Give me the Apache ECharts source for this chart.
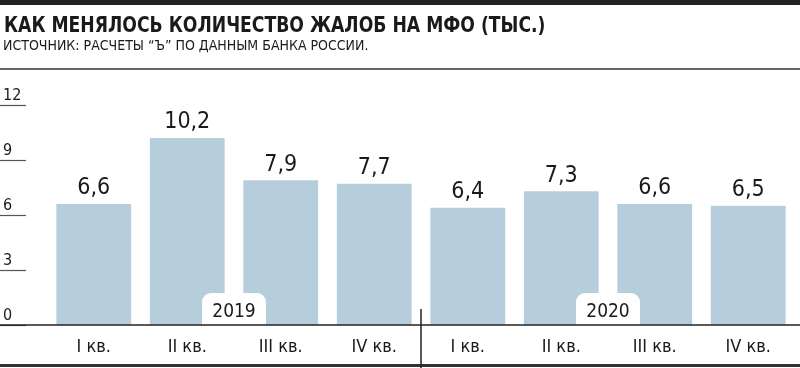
<!DOCTYPE html>
<html><head><meta charset="utf-8">
<script src="https://cdn.jsdelivr.net/npm/echarts@6/dist/echarts.min.js"></script>
<style>html,body{margin:0;padding:0;background:#fff}#c{width:800px;height:368px}</style>
</head><body><div id="c"></div>
<script>
const titleText = 'КАК МЕНЯЛОСЬ КОЛИЧЕСТВО ЖАЛОБ НА МФО (ТЫС.)';
const subtitleText = 'ИСТОЧНИК: РАСЧЕТЫ “Ъ” ПО ДАННЫМ БАНКА РОССИИ.';
const categories = ['I кв.','II кв.','III кв.','IV кв.','I кв.','II кв.','III кв.','IV кв.'];
const values = [6.6, 10.2, 7.9, 7.7, 6.4, 7.3, 6.6, 6.5];
const years = ['2019', '2020'];
const yTicks = [0, 3, 6, 9, 12];

const FONT = '"Liberation Sans Narrow","DejaVu Sans Condensed","Roboto",sans-serif';
const chart = echarts.init(document.getElementById('c'), null, {renderer:'canvas'});
const option = {
  animation: false,
  textStyle: {fontFamily: FONT},
  grid: {left: 47, right: 5, top: 105, bottom: 43},
  xAxis: {
    type: 'category', data: categories,
    axisTick: {show:false},
    axisLine: {show:false},
    axisLabel: {fontFamily: FONT, fontSize: 18, color:'#1a1a1a', margin: 13}
  },
  yAxis: {
    type: 'value', min: yTicks[0], max: yTicks[yTicks.length-1], interval: 3,
    position: 'left', offset: 21,
    axisLine: {show:false},
    axisTick: {show:true, length: 26, lineStyle:{color:'#555', width:1.2}},
    splitLine: {show:false},
    axisLabel: {fontFamily: FONT, fontSize: 16, color:'#1a1a1a', align:'left', margin: 23, verticalAlign:'bottom', padding:[0,0,1,0]}
  },
  series: [{
    type: 'bar', data: values, barCategoryGap: '20%',
    itemStyle: {color: '#b6cedb'},
    label: {show: true, position: 'top', distance: 4, fontFamily: FONT, fontSize: 23, color:'#1a1a1a',
      formatter: p => String(p.value).replace('.', ',')}
  }]
};
chart.setOption(option);

const base = chart.convertToPixel({yAxisIndex:0}, 0);
const p2 = chart.convertToPixel({xAxisIndex:0}, 1);
const p3 = chart.convertToPixel({xAxisIndex:0}, 2);
const p4 = chart.convertToPixel({xAxisIndex:0}, 3);
const p5 = chart.convertToPixel({xAxisIndex:0}, 4);
const p6 = chart.convertToPixel({xAxisIndex:0}, 5);
const p7 = chart.convertToPixel({xAxisIndex:0}, 6);
const yr1x = (p2 + p3) / 2, yr2x = (p6 + p7) / 2, divX = (p4 + p5) / 2;
const tabW = 64, tabH = 32;
function tab(cx, txt) {
  return [
    {type:'rect', shape:{x: cx - tabW/2, y: base - tabH, width: tabW, height: tabH, r:[9,9,0,0]}, style:{fill:'#fff'}, z: 10},
    {type:'text', x: cx, y: base - 13, style:{text: txt, fontFamily: FONT, fontSize: 19, fill:'#1a1a1a', align:'center', verticalAlign:'middle'}, z: 11}
  ];
}
chart.setOption({
  graphic: [
    {type:'rect', shape:{x:0, y:0, width:800, height:5}, style:{fill:'#222'}},
    {type:'text', x:4, y:15, scaleX:0.87, style:{text:titleText, fontFamily:FONT, fontSize:22, fontWeight:'bold', fill:'#1a1a1a'}},
    {type:'text', x:3, y:39, style:{text:subtitleText, fontFamily:FONT, fontSize:14, fill:'#1a1a1a'}},
    {type:'rect', shape:{x:0, y:68, width:800, height:2}, style:{fill:'#666'}},
    {type:'line', shape:{x1:0, y1:base, x2:800, y2:base}, style:{stroke:'#222', lineWidth:1.5}, z: 12},
    {type:'rect', shape:{x:0, y:364, width:800, height:3}, style:{fill:'#333'}},
    {type:'line', shape:{x1:divX, y1:base - 16, x2:divX, y2:368}, style:{stroke:'#222', lineWidth:1.5}, z: 12},
    ...tab(yr1x, years[0]),
    ...tab(yr2x, years[1])
  ]
});
</script></body></html>
